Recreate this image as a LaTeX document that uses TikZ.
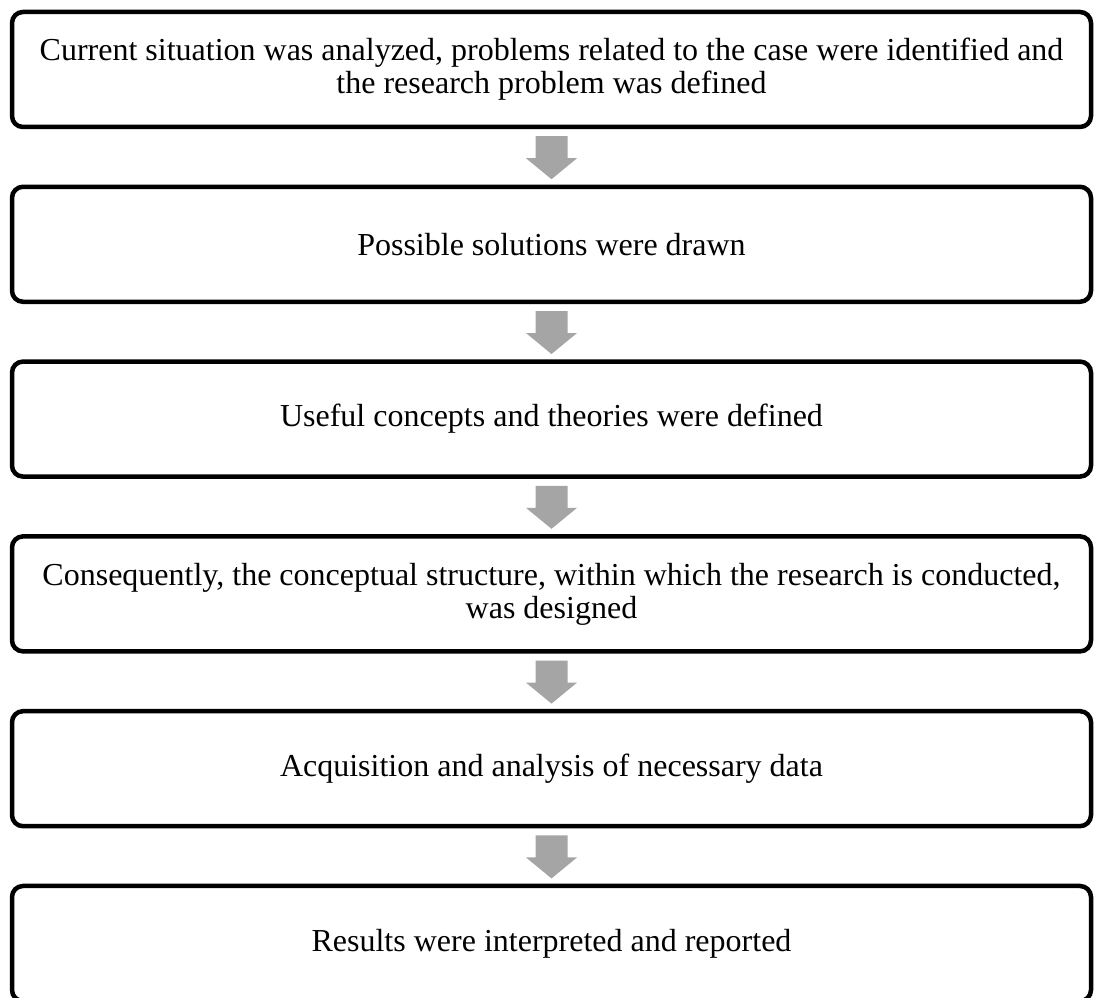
\documentclass[tikz,border=0pt]{standalone}
\usepackage{fontspec}
\setmainfont{Liberation Serif}
\usetikzlibrary{calc}
\definecolor{arrowgray}{HTML}{A5A5A5}
\tikzset{
  stepbox/.style={draw=black, line width=4.5pt, rounded corners=11pt, fill=white,
    minimum width=1079pt, minimum height=115pt, inner sep=0pt, align=center,
    font=\fontsize{32}{33}\selectfont},
  flowarrow/.style={fill=arrowgray, draw=none}
}
\newcommand\downarrowbetween[1]{%
  \fill[flowarrow] ($(#1.south)+(-16pt,-7pt)$) -- ($(#1.south)+(16pt,-7pt)$)
    -- ($(#1.south)+(16pt,-29pt)$) -- ($(#1.south)+(25.5pt,-29pt)$)
    -- ($(#1.south)+(0pt,-50pt)$) -- ($(#1.south)+(-25.5pt,-29pt)$)
    -- ($(#1.south)+(-16pt,-29pt)$) -- cycle;}
\begin{document}
\begin{tikzpicture}[x=1pt,y=1pt]
\useasboundingbox (0,0) rectangle (1096,998);
\node[stepbox] (b1) at (551.5,928.5) {Current situation was analyzed, problems related to the case were identified and\\the research problem was defined};
\node[stepbox] (b2) at (551.5,753.7) {Possible solutions were drawn};
\node[stepbox] (b3) at (551.5,578.9) {Useful concepts and theories were defined};
\node[stepbox] (b4) at (551.5,404.1) {Consequently, the conceptual structure, within which the research is conducted,\\was designed};
\node[stepbox] (b5) at (551.5,229.3) {Acquisition and analysis of necessary data};
\node[stepbox] (b6) at (551.5,54.5) {Results were interpreted and reported};
\downarrowbetween{b1}
\downarrowbetween{b2}
\downarrowbetween{b3}
\downarrowbetween{b4}
\downarrowbetween{b5}
\end{tikzpicture}
\end{document}
